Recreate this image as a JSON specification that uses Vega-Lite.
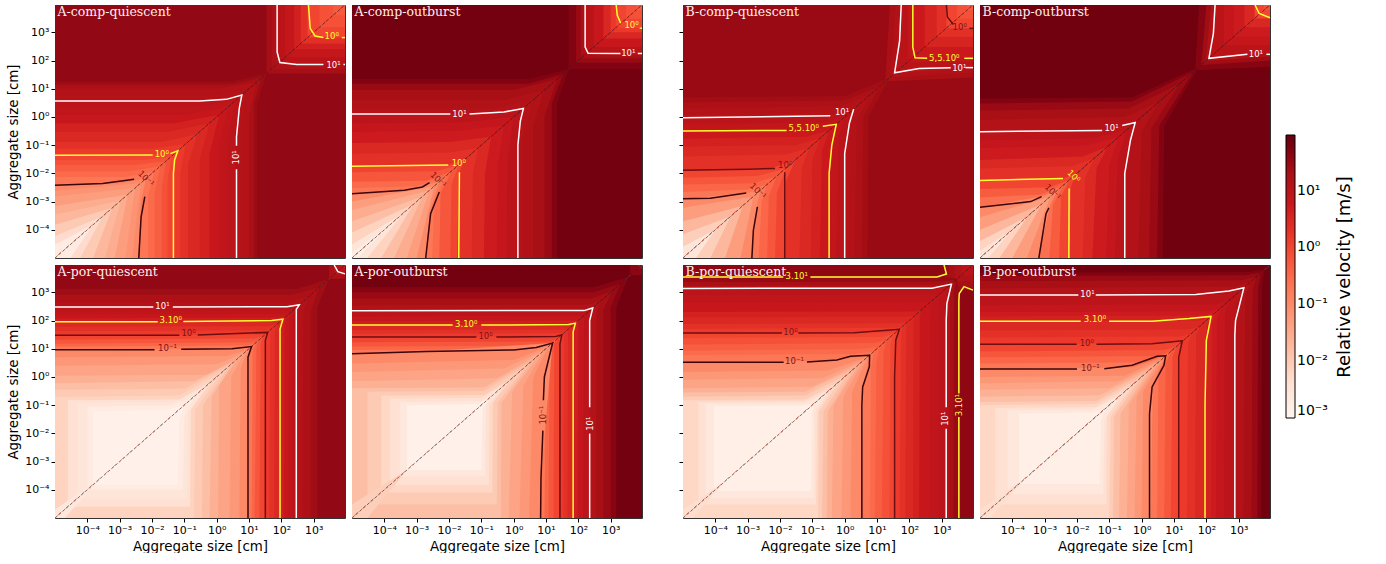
{"$schema":"https://vega.github.io/schema/vega-lite/v6.json","padding":{"left":6,"top":1,"right":0,"bottom":0},"background":"white",
"config":{"font":"DejaVu Sans","view":{"stroke":"#333","strokeWidth":1},"axis":{"labelFontSize":11,"titleFontSize":13.4,"titleFontWeight":"normal","grid":false,"domain":false,"tickColor":"#000","labelColor":"#000","titleColor":"#000","tickSize":4,"labelOverlap":false,"labelFlush":false,"labelPadding":2}},
"data":{"values":[
{"p":1,"t":"A-comp-quiescent"},{"p":2,"t":"A-comp-outburst"},{"p":3,"t":"B-comp-quiescent"},{"p":4,"t":"B-comp-outburst"},{"p":5,"t":"A-por-quiescent"},{"p":6,"t":"A-por-outburst"},{"p":7,"t":"B-por-quiescent"},{"p":8,"t":"B-por-outburst"},
{"p":1,"v":35,"x":1e-5,"Y":9300},{"p":1,"v":35,"x":9300,"Y":9300},
{"p":1,"v":22,"x":35,"Y":9300},{"p":1,"v":22,"x":9300,"Y":9300},{"p":1,"v":16,"x":50,"Y":9300},{"p":1,"v":16,"x":9300,"Y":9300},{"p":1,"v":10.1,"x":74,"Y":9300},{"p":1,"v":10.1,"x":9300,"Y":9300},{"p":1,"v":7.1,"x":130,"Y":9300},{"p":1,"v":7.1,"x":9300,"Y":9300},{"p":1,"v":4.1,"x":250,"Y":9300},{"p":1,"v":4.1,"x":9300,"Y":9300},{"p":1,"v":2.1,"x":400,"Y":9300},{"p":1,"v":2.1,"x":9300,"Y":9300},{"p":1,"v":1.01,"x":650,"Y":9300},{"p":1,"v":1.01,"x":9300,"Y":9300},{"p":1,"v":0.71,"x":1500,"Y":9300},{"p":1,"v":0.71,"x":9300,"Y":9300},{"p":1,"v":0.51,"x":4000,"Y":9300},{"p":1,"v":0.51,"x":9300,"Y":9300},
{"p":1,"v":28,"x":1e-5,"Y":18},{"p":1,"v":28,"x":3,"Y":18},{"p":1,"v":28,"x":35,"Y":35},
{"p":1,"v":18,"x":1e-5,"Y":14},{"p":1,"v":18,"x":3,"Y":14},{"p":1,"v":18,"x":25,"Y":25},
{"p":1,"v":14,"x":1e-5,"Y":10},{"p":1,"v":14,"x":1,"Y":10},{"p":1,"v":14,"x":17,"Y":17},
{"p":1,"v":12,"x":1e-5,"Y":6},{"p":1,"v":12,"x":0.5,"Y":6},{"p":1,"v":12,"x":9,"Y":9},
{"p":1,"v":10,"x":1e-5,"Y":3.7},{"p":1,"v":10,"x":0.3,"Y":3.7},{"p":1,"v":10,"x":6,"Y":6},
{"p":1,"v":8,"x":1e-5,"Y":2.2},{"p":1,"v":8,"x":0.2,"Y":2.2},{"p":1,"v":8,"x":4,"Y":4},
{"p":1,"v":6,"x":1e-5,"Y":1.2},{"p":1,"v":6,"x":0.1,"Y":1.2},{"p":1,"v":6,"x":2.3,"Y":2.3},
{"p":1,"v":4,"x":1e-5,"Y":0.6},{"p":1,"v":4,"x":0.05,"Y":0.6},{"p":1,"v":4,"x":1.2,"Y":1.2},
{"p":1,"v":3,"x":1e-5,"Y":0.3},{"p":1,"v":3,"x":0.03,"Y":0.3},{"p":1,"v":3,"x":0.6,"Y":0.6},
{"p":1,"v":2,"x":1e-5,"Y":0.13},{"p":1,"v":2,"x":0.02,"Y":0.13},{"p":1,"v":2,"x":0.25,"Y":0.25},
{"p":1,"v":1.4,"x":1e-5,"Y":0.075},{"p":1,"v":1.4,"x":0.01,"Y":0.075},{"p":1,"v":1.4,"x":0.11,"Y":0.11},
{"p":1,"v":1,"x":1e-5,"Y":0.044},{"p":1,"v":1,"x":0.007,"Y":0.044},{"p":1,"v":1,"x":0.063,"Y":0.063},
{"p":1,"v":0.7,"x":1e-5,"Y":0.03},{"p":1,"v":0.7,"x":0.005,"Y":0.03},{"p":1,"v":0.7,"x":0.04,"Y":0.04},
{"p":1,"v":0.45,"x":1e-5,"Y":0.02},{"p":1,"v":0.45,"x":0.003,"Y":0.02},{"p":1,"v":0.45,"x":0.027,"Y":0.027},
{"p":1,"v":0.3,"x":1e-5,"Y":0.012},{"p":1,"v":0.3,"x":0.002,"Y":0.012},{"p":1,"v":0.3,"x":0.018,"Y":0.018},
{"p":1,"v":0.2,"x":1e-5,"Y":0.0075},{"p":1,"v":0.2,"x":0.0015,"Y":0.0075},{"p":1,"v":0.2,"x":0.012,"Y":0.012},
{"p":1,"v":0.1,"x":1e-5,"Y":0.0038},{"p":1,"v":0.1,"x":0.001,"Y":0.0045},{"p":1,"v":0.1,"x":0.0066,"Y":0.0066},
{"p":1,"v":0.07,"x":1e-5,"Y":0.0024},{"p":1,"v":0.07,"x":0.0045,"Y":0.0045},
{"p":1,"v":0.05,"x":1e-5,"Y":0.0015},{"p":1,"v":0.05,"x":0.003,"Y":0.003},
{"p":1,"v":0.03,"x":1e-5,"Y":0.0007},{"p":1,"v":0.03,"x":0.0018,"Y":0.0018},
{"p":1,"v":0.02,"x":1e-5,"Y":0.00035},{"p":1,"v":0.02,"x":0.0011,"Y":0.0011},
{"p":1,"v":0.01,"x":1e-5,"Y":0.00015},{"p":1,"v":0.01,"x":0.0006,"Y":0.0006},
{"p":1,"v":0.005,"x":1e-5,"Y":0.00006},{"p":1,"v":0.005,"x":0.0003,"Y":0.0003},
{"p":1,"v":0.002,"x":1e-5,"Y":0.00003},{"p":1,"v":0.002,"x":0.00015,"Y":0.00015},
{"p":2,"v":70,"x":1e-5,"Y":9300},{"p":2,"v":70,"x":9300,"Y":9300},
{"p":2,"v":50.1,"x":50,"Y":9300},{"p":2,"v":50.1,"x":9300,"Y":9300},{"p":2,"v":30.1,"x":85,"Y":9300},{"p":2,"v":30.1,"x":9300,"Y":9300},{"p":2,"v":18,"x":120,"Y":9300},{"p":2,"v":18,"x":9300,"Y":9300},{"p":2,"v":10.1,"x":165,"Y":9300},{"p":2,"v":10.1,"x":9300,"Y":9300},{"p":2,"v":6,"x":300,"Y":9300},{"p":2,"v":6,"x":9300,"Y":9300},{"p":2,"v":3.1,"x":600,"Y":9300},{"p":2,"v":3.1,"x":9300,"Y":9300},{"p":2,"v":1.5,"x":1000,"Y":9300},{"p":2,"v":1.5,"x":9300,"Y":9300},{"p":2,"v":1.01,"x":1450,"Y":9300},{"p":2,"v":1.01,"x":9300,"Y":9300},{"p":2,"v":0.7,"x":3000,"Y":9300},{"p":2,"v":0.7,"x":9300,"Y":9300},{"p":2,"v":0.5,"x":6000,"Y":9300},{"p":2,"v":0.5,"x":9300,"Y":9300},
{"p":2,"v":50,"x":1e-5,"Y":22},{"p":2,"v":50,"x":3,"Y":22},{"p":2,"v":50,"x":50,"Y":50},
{"p":2,"v":30,"x":1e-5,"Y":15},{"p":2,"v":30,"x":3,"Y":15},{"p":2,"v":30,"x":35,"Y":35},
{"p":2,"v":20,"x":1e-5,"Y":9},{"p":2,"v":20,"x":1,"Y":9},{"p":2,"v":20,"x":22,"Y":22},
{"p":2,"v":15,"x":1e-5,"Y":4},{"p":2,"v":15,"x":0.5,"Y":4},{"p":2,"v":15,"x":9,"Y":9},
{"p":2,"v":12,"x":1e-5,"Y":2},{"p":2,"v":12,"x":0.2,"Y":2},{"p":2,"v":12,"x":4,"Y":4},
{"p":2,"v":10,"x":1e-5,"Y":1.26},{"p":2,"v":10,"x":0.05,"Y":1.3},{"p":2,"v":10,"x":2,"Y":2},
{"p":2,"v":7,"x":1e-5,"Y":0.6},{"p":2,"v":7,"x":0.03,"Y":0.65},{"p":2,"v":7,"x":1,"Y":1},
{"p":2,"v":5,"x":1e-5,"Y":0.3},{"p":2,"v":5,"x":0.02,"Y":0.33},{"p":2,"v":5,"x":0.5,"Y":0.5},
{"p":2,"v":3,"x":1e-5,"Y":0.12},{"p":2,"v":3,"x":0.01,"Y":0.13},{"p":2,"v":3,"x":0.2,"Y":0.2},
{"p":2,"v":2,"x":1e-5,"Y":0.05},{"p":2,"v":2,"x":0.01,"Y":0.055},{"p":2,"v":2,"x":0.08,"Y":0.08},
{"p":2,"v":1,"x":1e-5,"Y":0.018},{"p":2,"v":1,"x":0.0095,"Y":0.02},{"p":2,"v":1,"x":0.03,"Y":0.03},
{"p":2,"v":0.6,"x":1e-5,"Y":0.011},{"p":2,"v":0.6,"x":0.004,"Y":0.012},{"p":2,"v":0.6,"x":0.02,"Y":0.02},
{"p":2,"v":0.3,"x":1e-5,"Y":0.005},{"p":2,"v":0.3,"x":0.002,"Y":0.0055},{"p":2,"v":0.3,"x":0.012,"Y":0.012},
{"p":2,"v":0.2,"x":1e-5,"Y":0.003},{"p":2,"v":0.2,"x":0.001,"Y":0.0035},{"p":2,"v":0.2,"x":0.008,"Y":0.008},
{"p":2,"v":0.1,"x":1e-5,"Y":0.0019},{"p":2,"v":0.1,"x":0.0004,"Y":0.0025},{"p":2,"v":0.1,"x":0.005,"Y":0.005},
{"p":2,"v":0.05,"x":1e-5,"Y":0.001},{"p":2,"v":0.05,"x":0.0035,"Y":0.0035},
{"p":2,"v":0.03,"x":1e-5,"Y":0.0005},{"p":2,"v":0.03,"x":0.0025,"Y":0.0025},
{"p":2,"v":0.015,"x":1e-5,"Y":0.0002},{"p":2,"v":0.015,"x":0.0015,"Y":0.0015},
{"p":2,"v":0.007,"x":1e-5,"Y":0.00008},{"p":2,"v":0.007,"x":0.0008,"Y":0.0008},
{"p":2,"v":0.003,"x":1e-5,"Y":0.00003},{"p":2,"v":0.003,"x":0.0004,"Y":0.0004},
{"p":2,"v":0.0015,"x":1e-5,"Y":0.000015},{"p":2,"v":0.0015,"x":0.00015,"Y":0.00015},
{"p":3,"v":30,"x":1e-5,"Y":9300},{"p":3,"v":30,"x":9300,"Y":9300},
{"p":3,"v":18,"x":18,"Y":18},{"p":3,"v":18,"x":25,"Y":9300},{"p":3,"v":18,"x":9300,"Y":9300},{"p":3,"v":14.1,"x":25,"Y":25},{"p":3,"v":14.1,"x":38,"Y":9300},{"p":3,"v":14.1,"x":9300,"Y":9300},{"p":3,"v":10.1,"x":35,"Y":35},{"p":3,"v":10.1,"x":56,"Y":9300},{"p":3,"v":10.1,"x":9300,"Y":9300},{"p":3,"v":7.6,"x":90,"Y":9300},{"p":3,"v":7.6,"x":9300,"Y":9300},{"p":3,"v":5.6,"x":125,"Y":9300},{"p":3,"v":5.6,"x":9300,"Y":9300},{"p":3,"v":3.5,"x":300,"Y":9300},{"p":3,"v":3.5,"x":9300,"Y":9300},{"p":3,"v":2.1,"x":700,"Y":9300},{"p":3,"v":2.1,"x":9300,"Y":9300},{"p":3,"v":1.01,"x":1400,"Y":9300},{"p":3,"v":1.01,"x":9300,"Y":9300},{"p":3,"v":0.7,"x":3000,"Y":9300},{"p":3,"v":0.7,"x":9300,"Y":9300},{"p":3,"v":0.5,"x":6000,"Y":9300},{"p":3,"v":0.5,"x":9300,"Y":9300},
{"p":3,"v":24,"x":1e-5,"Y":5},{"p":3,"v":24,"x":1,"Y":5.5},{"p":3,"v":24,"x":25,"Y":25},
{"p":3,"v":17,"x":1e-5,"Y":3.3},{"p":3,"v":17,"x":1,"Y":3.8},{"p":3,"v":17,"x":12,"Y":12},
{"p":3,"v":14,"x":1e-5,"Y":2},{"p":3,"v":14,"x":0.7,"Y":2.4},{"p":3,"v":14,"x":6,"Y":6},
{"p":3,"v":12,"x":1e-5,"Y":1.3},{"p":3,"v":12,"x":0.4,"Y":1.5},{"p":3,"v":12,"x":3,"Y":3},
{"p":3,"v":10,"x":1e-5,"Y":0.93},{"p":3,"v":10,"x":0.36,"Y":1.1},{"p":3,"v":10,"x":1.9,"Y":1.9},
{"p":3,"v":7.5,"x":1e-5,"Y":0.55},{"p":3,"v":7.5,"x":0.2,"Y":0.65},{"p":3,"v":7.5,"x":1,"Y":1},
{"p":3,"v":5.5,"x":1e-5,"Y":0.32},{"p":3,"v":5.5,"x":0.1,"Y":0.36},{"p":3,"v":5.5,"x":0.55,"Y":0.55},
{"p":3,"v":4,"x":1e-5,"Y":0.17},{"p":3,"v":4,"x":0.06,"Y":0.2},{"p":3,"v":4,"x":0.33,"Y":0.33},
{"p":3,"v":3,"x":1e-5,"Y":0.09},{"p":3,"v":3,"x":0.03,"Y":0.1},{"p":3,"v":3,"x":0.18,"Y":0.18},
{"p":3,"v":2,"x":1e-5,"Y":0.04},{"p":3,"v":2,"x":0.015,"Y":0.047},{"p":3,"v":2,"x":0.08,"Y":0.08},
{"p":3,"v":1,"x":1e-5,"Y":0.013},{"p":3,"v":1,"x":0.005,"Y":0.015},{"p":3,"v":1,"x":0.03,"Y":0.03},
{"p":3,"v":0.6,"x":1e-5,"Y":0.007},{"p":3,"v":0.6,"x":0.002,"Y":0.008},{"p":3,"v":0.6,"x":0.015,"Y":0.015},
{"p":3,"v":0.35,"x":1e-5,"Y":0.004},{"p":3,"v":0.35,"x":0.0015,"Y":0.0045},{"p":3,"v":0.35,"x":0.008,"Y":0.008},
{"p":3,"v":0.2,"x":1e-5,"Y":0.0022},{"p":3,"v":0.2,"x":0.001,"Y":0.0027},{"p":3,"v":0.2,"x":0.004,"Y":0.004},
{"p":3,"v":0.1,"x":1e-5,"Y":0.00125},{"p":3,"v":0.1,"x":0.0009,"Y":0.002},{"p":3,"v":0.1,"x":0.0025,"Y":0.0025},
{"p":3,"v":0.05,"x":1e-5,"Y":0.0006},{"p":3,"v":0.05,"x":0.0015,"Y":0.0015},
{"p":3,"v":0.02,"x":1e-5,"Y":0.0002},{"p":3,"v":0.02,"x":0.0007,"Y":0.0007},
{"p":3,"v":0.008,"x":1e-5,"Y":0.00007},{"p":3,"v":0.008,"x":0.0003,"Y":0.0003},
{"p":3,"v":0.003,"x":1e-5,"Y":0.000025},{"p":3,"v":0.003,"x":0.0001,"Y":0.0001},
{"p":4,"v":75,"x":1e-5,"Y":9300},{"p":4,"v":75,"x":9300,"Y":9300},
{"p":4,"v":45,"x":45,"Y":45},{"p":4,"v":45,"x":60,"Y":9300},{"p":4,"v":45,"x":9300,"Y":9300},{"p":4,"v":25,"x":70,"Y":70},{"p":4,"v":25,"x":100,"Y":9300},{"p":4,"v":25,"x":9300,"Y":9300},{"p":4,"v":15,"x":95,"Y":95},{"p":4,"v":15,"x":140,"Y":9300},{"p":4,"v":15,"x":9300,"Y":9300},{"p":4,"v":10.1,"x":120,"Y":120},{"p":4,"v":10.1,"x":186,"Y":9300},{"p":4,"v":10.1,"x":9300,"Y":9300},{"p":4,"v":7.1,"x":350,"Y":9300},{"p":4,"v":7.1,"x":9300,"Y":9300},{"p":4,"v":5.1,"x":700,"Y":9300},{"p":4,"v":5.1,"x":9300,"Y":9300},{"p":4,"v":3.1,"x":1500,"Y":9300},{"p":4,"v":3.1,"x":9300,"Y":9300},{"p":4,"v":1.01,"x":3100,"Y":9300},{"p":4,"v":1.01,"x":9300,"Y":9300},{"p":4,"v":0.7,"x":6000,"Y":9300},{"p":4,"v":0.7,"x":9300,"Y":9300},
{"p":4,"v":50,"x":1e-5,"Y":4.5},{"p":4,"v":50,"x":0.5,"Y":5},{"p":4,"v":50,"x":60,"Y":60},
{"p":4,"v":30,"x":1e-5,"Y":3},{"p":4,"v":30,"x":0.5,"Y":3.5},{"p":4,"v":30,"x":40,"Y":40},
{"p":4,"v":20,"x":1e-5,"Y":1.7},{"p":4,"v":20,"x":0.4,"Y":2},{"p":4,"v":20,"x":15,"Y":15},
{"p":4,"v":14,"x":1e-5,"Y":0.8},{"p":4,"v":14,"x":0.3,"Y":1},{"p":4,"v":14,"x":3.5,"Y":3.5},
{"p":4,"v":10,"x":1e-5,"Y":0.3},{"p":4,"v":10,"x":0.06,"Y":0.35},{"p":4,"v":10,"x":0.63,"Y":0.63},
{"p":4,"v":7,"x":1e-5,"Y":0.15},{"p":4,"v":7,"x":0.03,"Y":0.18},{"p":4,"v":7,"x":0.35,"Y":0.35},
{"p":4,"v":5,"x":1e-5,"Y":0.08},{"p":4,"v":5,"x":0.02,"Y":0.1},{"p":4,"v":5,"x":0.2,"Y":0.2},
{"p":4,"v":3,"x":1e-5,"Y":0.03},{"p":4,"v":3,"x":0.015,"Y":0.04},{"p":4,"v":3,"x":0.09,"Y":0.09},
{"p":4,"v":2,"x":1e-5,"Y":0.015},{"p":4,"v":2,"x":0.007,"Y":0.018},{"p":4,"v":2,"x":0.035,"Y":0.035},
{"p":4,"v":1,"x":1e-5,"Y":0.0056},{"p":4,"v":1,"x":0.0037,"Y":0.0066},{"p":4,"v":1,"x":0.01,"Y":0.01},
{"p":4,"v":0.5,"x":1e-5,"Y":0.0028},{"p":4,"v":0.5,"x":0.0015,"Y":0.0032},{"p":4,"v":0.5,"x":0.006,"Y":0.006},
{"p":4,"v":0.25,"x":1e-5,"Y":0.0014},{"p":4,"v":0.25,"x":0.0008,"Y":0.0018},{"p":4,"v":0.25,"x":0.004,"Y":0.004},
{"p":4,"v":0.1,"x":1e-5,"Y":0.00063},{"p":4,"v":0.1,"x":0.0008,"Y":0.0015},{"p":4,"v":0.1,"x":0.0025,"Y":0.0025},
{"p":4,"v":0.05,"x":1e-5,"Y":0.00028},{"p":4,"v":0.05,"x":0.0015,"Y":0.0015},
{"p":4,"v":0.02,"x":1e-5,"Y":0.0001},{"p":4,"v":0.02,"x":0.0008,"Y":0.0008},
{"p":4,"v":0.007,"x":1e-5,"Y":0.00004},{"p":4,"v":0.007,"x":0.0003,"Y":0.0003},
{"p":4,"v":0.003,"x":1e-5,"Y":0.000018},{"p":4,"v":0.003,"x":0.0001,"Y":0.0001},
{"p":5,"v":35,"x":1e-5,"Y":9300},{"p":5,"v":35,"x":9300,"Y":9300},
{"p":5,"v":18,"x":3000,"Y":9300},{"p":5,"v":18,"x":9300,"Y":9300},{"p":5,"v":10.1,"x":4300,"Y":9300},{"p":5,"v":10.1,"x":9300,"Y":9300},{"p":5,"v":7,"x":7000,"Y":9300},{"p":5,"v":7,"x":9300,"Y":9300},
{"p":5,"v":26,"x":1e-5,"Y":1300},{"p":5,"v":26,"x":300,"Y":1300},{"p":5,"v":26,"x":3000,"Y":3000},
{"p":5,"v":17,"x":1e-5,"Y":800},{"p":5,"v":17,"x":200,"Y":800},{"p":5,"v":17,"x":1500,"Y":1500},
{"p":5,"v":13,"x":1e-5,"Y":450},{"p":5,"v":13,"x":200,"Y":480},{"p":5,"v":13,"x":700,"Y":700},
{"p":5,"v":10,"x":1e-5,"Y":300},{"p":5,"v":10,"x":200,"Y":310},{"p":5,"v":10,"x":360,"Y":360},
{"p":5,"v":8,"x":1e-5,"Y":220},{"p":5,"v":8,"x":130,"Y":230},{"p":5,"v":8,"x":280,"Y":280},
{"p":5,"v":6,"x":1e-5,"Y":160},{"p":5,"v":6,"x":100,"Y":170},{"p":5,"v":6,"x":210,"Y":210},
{"p":5,"v":4.5,"x":1e-5,"Y":120},{"p":5,"v":4.5,"x":80,"Y":125},{"p":5,"v":4.5,"x":150,"Y":150},
{"p":5,"v":3,"x":1e-5,"Y":91},{"p":5,"v":3,"x":70,"Y":95},{"p":5,"v":3,"x":112,"Y":112},
{"p":5,"v":2,"x":1e-5,"Y":60},{"p":5,"v":2,"x":40,"Y":63},{"p":5,"v":2,"x":75,"Y":75},
{"p":5,"v":1.4,"x":1e-5,"Y":42},{"p":5,"v":1.4,"x":30,"Y":45},{"p":5,"v":1.4,"x":52,"Y":52},
{"p":5,"v":1,"x":1e-5,"Y":30},{"p":5,"v":1,"x":25,"Y":32},{"p":5,"v":1,"x":38,"Y":38},
{"p":5,"v":0.6,"x":1e-5,"Y":21},{"p":5,"v":0.6,"x":15,"Y":23},{"p":5,"v":0.6,"x":27,"Y":27},
{"p":5,"v":0.35,"x":1e-5,"Y":15},{"p":5,"v":0.35,"x":12,"Y":17},{"p":5,"v":0.35,"x":20,"Y":20},
{"p":5,"v":0.2,"x":1e-5,"Y":12},{"p":5,"v":0.2,"x":9,"Y":13},{"p":5,"v":0.2,"x":16,"Y":16},
{"p":5,"v":0.1,"x":1e-5,"Y":9.3},{"p":5,"v":0.1,"x":5,"Y":10},{"p":5,"v":0.1,"x":12,"Y":12},
{"p":5,"v":0.06,"x":1e-5,"Y":5},{"p":5,"v":0.06,"x":2,"Y":5.5},{"p":5,"v":0.06,"x":9,"Y":9},
{"p":5,"v":0.04,"x":1e-5,"Y":2.5},{"p":5,"v":0.04,"x":1,"Y":2.8},{"p":5,"v":0.04,"x":7,"Y":7},
{"p":5,"v":0.025,"x":1e-5,"Y":1.1},{"p":5,"v":0.025,"x":0.5,"Y":1.2},{"p":5,"v":0.025,"x":5,"Y":5},
{"p":5,"v":0.015,"x":1e-5,"Y":0.6},{"p":5,"v":0.015,"x":0.2,"Y":0.7},{"p":5,"v":0.015,"x":3.5,"Y":3.5},
{"p":5,"v":0.01,"x":1e-5,"Y":0.35},{"p":5,"v":0.01,"x":0.1,"Y":0.38},{"p":5,"v":0.01,"x":2.5,"Y":2.5},
{"p":5,"v":0.007,"x":1e-5,"Y":0.2},{"p":5,"v":0.007,"x":0.07,"Y":0.22},{"p":5,"v":0.007,"x":1.5,"Y":1.5},
{"p":5,"v":0.004,"x":0.000025,"Y":0.15},{"p":5,"v":0.004,"x":0.07,"Y":0.16},{"p":5,"v":0.004,"x":0.7,"Y":0.7},
{"p":5,"v":0.003,"x":0.00005,"Y":0.12},{"p":5,"v":0.003,"x":0.05,"Y":0.13},{"p":5,"v":0.003,"x":0.4,"Y":0.4},
{"p":5,"v":0.002,"x":0.0001,"Y":0.09},{"p":5,"v":0.002,"x":0.04,"Y":0.1},{"p":5,"v":0.002,"x":0.2,"Y":0.2},
{"p":5,"v":0.0013,"x":0.00015,"Y":0.06},{"p":5,"v":0.0013,"x":0.03,"Y":0.07},{"p":5,"v":0.0013,"x":0.1,"Y":0.1},
{"p":5,"v":0.0025,"x":1e-5,"Y":0.00002},{"p":5,"v":0.0025,"x":0.0003,"Y":0.0003},
{"p":6,"v":70,"x":1e-5,"Y":9300},{"p":6,"v":70,"x":9300,"Y":9300},
{"p":6,"v":40,"x":4000,"Y":9300},{"p":6,"v":40,"x":9300,"Y":9300},{"p":6,"v":22,"x":7000,"Y":9300},{"p":6,"v":22,"x":9300,"Y":9300},
{"p":6,"v":45,"x":1e-5,"Y":1500},{"p":6,"v":45,"x":300,"Y":1500},{"p":6,"v":45,"x":3500,"Y":3500},
{"p":6,"v":30,"x":1e-5,"Y":1000},{"p":6,"v":30,"x":300,"Y":1000},{"p":6,"v":30,"x":2000,"Y":2000},
{"p":6,"v":20,"x":1e-5,"Y":600},{"p":6,"v":20,"x":250,"Y":600},{"p":6,"v":20,"x":1100,"Y":1100},
{"p":6,"v":14,"x":1e-5,"Y":350},{"p":6,"v":14,"x":200,"Y":370},{"p":6,"v":14,"x":500,"Y":500},
{"p":6,"v":10,"x":1e-5,"Y":224},{"p":6,"v":10,"x":200,"Y":230},{"p":6,"v":10,"x":280,"Y":280},
{"p":6,"v":7,"x":1e-5,"Y":140},{"p":6,"v":7,"x":120,"Y":150},{"p":6,"v":7,"x":180,"Y":180},
{"p":6,"v":4.5,"x":1e-5,"Y":95},{"p":6,"v":4.5,"x":80,"Y":100},{"p":6,"v":4.5,"x":115,"Y":115},
{"p":6,"v":3,"x":1e-5,"Y":69},{"p":6,"v":3,"x":60,"Y":72},{"p":6,"v":3,"x":81,"Y":81},
{"p":6,"v":2,"x":1e-5,"Y":46},{"p":6,"v":2,"x":40,"Y":48},{"p":6,"v":2,"x":55,"Y":55},
{"p":6,"v":1.4,"x":1e-5,"Y":34},{"p":6,"v":1.4,"x":30,"Y":36},{"p":6,"v":1.4,"x":40,"Y":40},
{"p":6,"v":1,"x":1e-5,"Y":26},{"p":6,"v":1,"x":22,"Y":27},{"p":6,"v":1,"x":31,"Y":31},
{"p":6,"v":0.6,"x":1e-5,"Y":17},{"p":6,"v":0.6,"x":15,"Y":18},{"p":6,"v":0.6,"x":24,"Y":24},
{"p":6,"v":0.35,"x":1e-5,"Y":12},{"p":6,"v":0.35,"x":8,"Y":13},{"p":6,"v":0.35,"x":20,"Y":20},
{"p":6,"v":0.2,"x":1e-5,"Y":9},{"p":6,"v":0.2,"x":4,"Y":10},{"p":6,"v":0.2,"x":18,"Y":18},
{"p":6,"v":0.1,"x":1e-5,"Y":6.6},{"p":6,"v":0.1,"x":0.002,"Y":8},{"p":6,"v":0.1,"x":16,"Y":16},
{"p":6,"v":0.06,"x":1e-5,"Y":3},{"p":6,"v":0.06,"x":1,"Y":4},{"p":6,"v":0.06,"x":12,"Y":12},
{"p":6,"v":0.04,"x":1e-5,"Y":1.5},{"p":6,"v":0.04,"x":0.5,"Y":2},{"p":6,"v":0.04,"x":9,"Y":9},
{"p":6,"v":0.025,"x":1e-5,"Y":0.7},{"p":6,"v":0.025,"x":0.3,"Y":0.9},{"p":6,"v":0.025,"x":7,"Y":7},
{"p":6,"v":0.015,"x":1e-5,"Y":0.4},{"p":6,"v":0.015,"x":0.12,"Y":0.42},{"p":6,"v":0.015,"x":4,"Y":4},
{"p":6,"v":0.01,"x":0.00003,"Y":0.3},{"p":6,"v":0.01,"x":0.12,"Y":0.32},{"p":6,"v":0.01,"x":2.5,"Y":2.5},
{"p":6,"v":0.006,"x":0.00008,"Y":0.22},{"p":6,"v":0.006,"x":0.12,"Y":0.23},{"p":6,"v":0.006,"x":1,"Y":1},
{"p":6,"v":0.004,"x":0.00015,"Y":0.17},{"p":6,"v":0.004,"x":0.1,"Y":0.18},{"p":6,"v":0.004,"x":0.6,"Y":0.6},
{"p":6,"v":0.0025,"x":0.0003,"Y":0.13},{"p":6,"v":0.0025,"x":0.1,"Y":0.14},{"p":6,"v":0.0025,"x":0.35,"Y":0.35},
{"p":6,"v":0.0014,"x":0.0005,"Y":0.1},{"p":6,"v":0.0014,"x":0.08,"Y":0.11},{"p":6,"v":0.0014,"x":0.2,"Y":0.2},
{"p":6,"v":0.008,"x":1e-5,"Y":0.00003},{"p":6,"v":0.008,"x":0.0005,"Y":0.0005},
{"p":7,"v":38,"x":1e-5,"Y":9300},{"p":7,"v":38,"x":9300,"Y":9300},
{"p":7,"v":25,"x":1200,"Y":9300},{"p":7,"v":25,"x":9300,"Y":9300},{"p":7,"v":20.1,"x":1700,"Y":9300},{"p":7,"v":20.1,"x":9300,"Y":9300},{"p":7,"v":15,"x":2500,"Y":9300},{"p":7,"v":15,"x":9300,"Y":9300},{"p":7,"v":10.1,"x":4000,"Y":9300},{"p":7,"v":10.1,"x":9300,"Y":9300},
{"p":7,"v":30,"x":1e-5,"Y":3500},{"p":7,"v":30,"x":1000,"Y":3500},{"p":7,"v":30,"x":3000,"Y":3000},
{"p":7,"v":20,"x":1e-5,"Y":2300},{"p":7,"v":20,"x":1000,"Y":2400},{"p":7,"v":20,"x":2800,"Y":2800},
{"p":7,"v":14,"x":1e-5,"Y":1700},{"p":7,"v":14,"x":1000,"Y":1800},{"p":7,"v":14,"x":2400,"Y":2400},
{"p":7,"v":10,"x":1e-5,"Y":1380},{"p":7,"v":10,"x":1000,"Y":1450},{"p":7,"v":10,"x":2000,"Y":2000},
{"p":7,"v":8,"x":1e-5,"Y":800},{"p":7,"v":8,"x":500,"Y":830},{"p":7,"v":8,"x":1000,"Y":1000},
{"p":7,"v":6,"x":1e-5,"Y":420},{"p":7,"v":6,"x":300,"Y":440},{"p":7,"v":6,"x":500,"Y":500},
{"p":7,"v":4,"x":1e-5,"Y":200},{"p":7,"v":4,"x":150,"Y":210},{"p":7,"v":4,"x":240,"Y":240},
{"p":7,"v":3,"x":1e-5,"Y":130},{"p":7,"v":3,"x":100,"Y":135},{"p":7,"v":3,"x":160,"Y":160},
{"p":7,"v":2,"x":1e-5,"Y":75},{"p":7,"v":2,"x":60,"Y":80},{"p":7,"v":2,"x":95,"Y":95},
{"p":7,"v":1.4,"x":1e-5,"Y":50},{"p":7,"v":1.4,"x":40,"Y":55},{"p":7,"v":1.4,"x":65,"Y":65},
{"p":7,"v":1,"x":1e-5,"Y":36},{"p":7,"v":1,"x":25,"Y":38},{"p":7,"v":1,"x":49,"Y":49},
{"p":7,"v":0.7,"x":1e-5,"Y":24},{"p":7,"v":0.7,"x":15,"Y":26},{"p":7,"v":0.7,"x":33,"Y":33},
{"p":7,"v":0.45,"x":1e-5,"Y":14},{"p":7,"v":0.45,"x":8,"Y":16},{"p":7,"v":0.45,"x":20,"Y":20},
{"p":7,"v":0.3,"x":1e-5,"Y":8.5},{"p":7,"v":0.3,"x":3,"Y":9.5},{"p":7,"v":0.3,"x":12,"Y":12},
{"p":7,"v":0.2,"x":1e-5,"Y":6},{"p":7,"v":0.2,"x":2,"Y":6.5},{"p":7,"v":0.2,"x":8,"Y":8},
{"p":7,"v":0.1,"x":1e-5,"Y":3.3},{"p":7,"v":0.1,"x":0.5,"Y":3.8},{"p":7,"v":0.1,"x":5.9,"Y":5.9},
{"p":7,"v":0.06,"x":1e-5,"Y":1.5},{"p":7,"v":0.06,"x":0.3,"Y":1.7},{"p":7,"v":0.06,"x":5,"Y":5},
{"p":7,"v":0.04,"x":1e-5,"Y":0.8},{"p":7,"v":0.04,"x":0.2,"Y":0.9},{"p":7,"v":0.04,"x":4,"Y":4},
{"p":7,"v":0.025,"x":1e-5,"Y":0.4},{"p":7,"v":0.025,"x":0.1,"Y":0.45},{"p":7,"v":0.025,"x":3,"Y":3},
{"p":7,"v":0.015,"x":1e-5,"Y":0.28},{"p":7,"v":0.015,"x":0.06,"Y":0.3},{"p":7,"v":0.015,"x":2,"Y":2},
{"p":7,"v":0.009,"x":1e-5,"Y":0.2},{"p":7,"v":0.009,"x":0.06,"Y":0.22},{"p":7,"v":0.009,"x":1.2,"Y":1.2},
{"p":7,"v":0.006,"x":1e-5,"Y":0.15},{"p":7,"v":0.006,"x":0.06,"Y":0.16},{"p":7,"v":0.006,"x":0.7,"Y":0.7},
{"p":7,"v":0.004,"x":0.00003,"Y":0.13},{"p":7,"v":0.004,"x":0.06,"Y":0.14},{"p":7,"v":0.004,"x":0.4,"Y":0.4},
{"p":7,"v":0.0025,"x":0.00005,"Y":0.11},{"p":7,"v":0.0025,"x":0.06,"Y":0.115},{"p":7,"v":0.0025,"x":0.25,"Y":0.25},
{"p":7,"v":0.0015,"x":0.00009,"Y":0.09},{"p":7,"v":0.0015,"x":0.05,"Y":0.095},{"p":7,"v":0.0015,"x":0.12,"Y":0.12},
{"p":7,"v":0.0045,"x":1e-5,"Y":0.00002},{"p":7,"v":0.0045,"x":0.0002,"Y":0.0002},
{"p":8,"v":75,"x":1e-5,"Y":9300},{"p":8,"v":75,"x":9300,"Y":9300},
{"p":8,"v":50,"x":1e-5,"Y":5000},{"p":8,"v":50,"x":2000,"Y":5300},{"p":8,"v":50,"x":6500,"Y":6500},
{"p":8,"v":30,"x":1e-5,"Y":3800},{"p":8,"v":30,"x":1500,"Y":4000},{"p":8,"v":30,"x":5000,"Y":5000},
{"p":8,"v":20,"x":1e-5,"Y":2500},{"p":8,"v":20,"x":1200,"Y":2700},{"p":8,"v":20,"x":3500,"Y":3500},
{"p":8,"v":14,"x":1e-5,"Y":1400},{"p":8,"v":14,"x":800,"Y":1600},{"p":8,"v":14,"x":2500,"Y":2500},
{"p":8,"v":10,"x":1e-5,"Y":800},{"p":8,"v":10,"x":400,"Y":850},{"p":8,"v":10,"x":1500,"Y":1500},
{"p":8,"v":7,"x":1e-5,"Y":350},{"p":8,"v":7,"x":200,"Y":380},{"p":8,"v":7,"x":550,"Y":550},
{"p":8,"v":5,"x":1e-5,"Y":200},{"p":8,"v":5,"x":120,"Y":215},{"p":8,"v":5,"x":300,"Y":300},
{"p":8,"v":4,"x":1e-5,"Y":140},{"p":8,"v":4,"x":90,"Y":150},{"p":8,"v":4,"x":210,"Y":210},
{"p":8,"v":3,"x":1e-5,"Y":95},{"p":8,"v":3,"x":60,"Y":100},{"p":8,"v":3,"x":140,"Y":140},
{"p":8,"v":2,"x":1e-5,"Y":45},{"p":8,"v":2,"x":30,"Y":48},{"p":8,"v":2,"x":65,"Y":65},
{"p":8,"v":1.4,"x":1e-5,"Y":25},{"p":8,"v":1.4,"x":15,"Y":27},{"p":8,"v":1.4,"x":35,"Y":35},
{"p":8,"v":1,"x":1e-5,"Y":14.5},{"p":8,"v":1,"x":9,"Y":15.5},{"p":8,"v":1,"x":19,"Y":19},
{"p":8,"v":0.6,"x":1e-5,"Y":8},{"p":8,"v":0.6,"x":5,"Y":9},{"p":8,"v":0.6,"x":12,"Y":12},
{"p":8,"v":0.35,"x":1e-5,"Y":5},{"p":8,"v":0.35,"x":3,"Y":5.5},{"p":8,"v":0.35,"x":8.5,"Y":8.5},
{"p":8,"v":0.2,"x":1e-5,"Y":3},{"p":8,"v":0.2,"x":1.5,"Y":3.3},{"p":8,"v":0.2,"x":7,"Y":7},
{"p":8,"v":0.1,"x":1e-5,"Y":1.9},{"p":8,"v":0.1,"x":0.6,"Y":2.2},{"p":8,"v":0.1,"x":5.5,"Y":5.5},
{"p":8,"v":0.06,"x":1e-5,"Y":1},{"p":8,"v":0.06,"x":0.3,"Y":1.1},{"p":8,"v":0.06,"x":4.5,"Y":4.5},
{"p":8,"v":0.04,"x":1e-5,"Y":0.6},{"p":8,"v":0.04,"x":0.2,"Y":0.7},{"p":8,"v":0.04,"x":3.5,"Y":3.5},
{"p":8,"v":0.025,"x":1e-5,"Y":0.35},{"p":8,"v":0.025,"x":0.1,"Y":0.4},{"p":8,"v":0.025,"x":2.5,"Y":2.5},
{"p":8,"v":0.015,"x":1e-5,"Y":0.2},{"p":8,"v":0.015,"x":0.05,"Y":0.22},{"p":8,"v":0.015,"x":1.6,"Y":1.6},
{"p":8,"v":0.009,"x":1e-5,"Y":0.13},{"p":8,"v":0.009,"x":0.04,"Y":0.14},{"p":8,"v":0.009,"x":1,"Y":1},
{"p":8,"v":0.006,"x":1e-5,"Y":0.1},{"p":8,"v":0.006,"x":0.04,"Y":0.11},{"p":8,"v":0.006,"x":0.6,"Y":0.6},
{"p":8,"v":0.004,"x":0.00003,"Y":0.08},{"p":8,"v":0.004,"x":0.04,"Y":0.085},{"p":8,"v":0.004,"x":0.35,"Y":0.35},
{"p":8,"v":0.0025,"x":0.00007,"Y":0.065},{"p":8,"v":0.0025,"x":0.03,"Y":0.07},{"p":8,"v":0.0025,"x":0.2,"Y":0.2},
{"p":8,"v":0.0015,"x":0.00016,"Y":0.05},{"p":8,"v":0.0015,"x":0.03,"Y":0.055},{"p":8,"v":0.0015,"x":0.08,"Y":0.08},
{"p":8,"v":0.0045,"x":1e-5,"Y":0.00002},{"p":8,"v":0.0045,"x":0.0003,"Y":0.0003},

{"p":1,"g":1,"c":"w","x":1e-5,"y":3.7},{"p":1,"g":1,"c":"w","x":0.3,"y":3.7},{"p":1,"g":1,"c":"w","x":2,"y":4.2},{"p":1,"g":1,"c":"w","x":6,"y":6},{"p":1,"g":1,"c":"w","x":5,"y":2},{"p":1,"g":1,"c":"w","x":4.1,"y":0.2},{"p":1,"g":1,"c":"w","x":4.1,"y":0.095},
{"p":1,"g":2,"c":"w","x":4.1,"y":0.014},{"p":1,"g":2,"c":"w","x":4.1,"y":1e-5},
{"p":1,"g":3,"c":"y","x":1e-5,"y":0.044},{"p":1,"g":3,"c":"y","x":0.0105,"y":0.045},
{"p":1,"g":4,"c":"y","x":0.037,"y":0.05},{"p":1,"g":4,"c":"y","x":0.063,"y":0.063},{"p":1,"g":4,"c":"y","x":0.05,"y":0.03},{"p":1,"g":4,"c":"y","x":0.046,"y":0.01},{"p":1,"g":4,"c":"y","x":0.046,"y":1e-5},
{"p":1,"g":5,"c":"a","x":1e-5,"y":0.0038},{"p":1,"g":5,"c":"a","x":0.0003,"y":0.0044},{"p":1,"g":5,"c":"a","x":0.0028,"y":0.0062},
{"p":1,"g":6,"c":"a","x":0.006,"y":0.0015},{"p":1,"g":6,"c":"a","x":0.0046,"y":0.00029},{"p":1,"g":6,"c":"a","x":0.0039,"y":1e-5},
{"p":1,"g":7,"c":"w","x":74,"y":9300},{"p":1,"g":7,"c":"w","x":74,"y":200},{"p":1,"g":7,"c":"w","x":90,"y":85},{"p":1,"g":7,"c":"w","x":300,"y":72},{"p":1,"g":7,"c":"w","x":2000,"y":72},
{"p":1,"g":8,"c":"w","x":8300,"y":72},{"p":1,"g":8,"c":"w","x":9300,"y":72},
{"p":1,"g":9,"c":"y","x":690,"y":9300},{"p":1,"g":9,"c":"y","x":780,"y":1380},{"p":1,"g":9,"c":"y","x":1100,"y":740},{"p":1,"g":9,"c":"y","x":2000,"y":650},
{"p":1,"g":10,"c":"y","x":7400,"y":650},{"p":1,"g":10,"c":"y","x":9300,"y":650},
{"p":2,"g":1,"c":"w","x":1e-5,"y":1.26},{"p":2,"g":1,"c":"w","x":0.011,"y":1.26},
{"p":2,"g":2,"c":"w","x":0.043,"y":1.27},{"p":2,"g":2,"c":"w","x":0.5,"y":1.5},{"p":2,"g":2,"c":"w","x":2,"y":2},{"p":2,"g":2,"c":"w","x":1.6,"y":0.7},{"p":2,"g":2,"c":"w","x":1.35,"y":0.1},{"p":2,"g":2,"c":"w","x":1.35,"y":1e-5},
{"p":2,"g":3,"c":"y","x":1e-5,"y":0.018},{"p":2,"g":3,"c":"y","x":0.0095,"y":0.02},
{"p":2,"g":4,"c":"y","x":0.021,"y":0.011},{"p":2,"g":4,"c":"y","x":0.02,"y":1e-5},
{"p":2,"g":5,"c":"a","x":1e-5,"y":0.0019},{"p":2,"g":5,"c":"a","x":0.00042,"y":0.0025},{"p":2,"g":5,"c":"a","x":0.0015,"y":0.0033},{"p":2,"g":5,"c":"a","x":0.0025,"y":0.0047},
{"p":2,"g":6,"c":"a","x":0.005,"y":0.0022},{"p":2,"g":6,"c":"a","x":0.0027,"y":0.00037},{"p":2,"g":6,"c":"a","x":0.0019,"y":1e-5},
{"p":2,"g":7,"c":"w","x":162,"y":9300},{"p":2,"g":7,"c":"w","x":162,"y":300},{"p":2,"g":7,"c":"w","x":200,"y":180},{"p":2,"g":7,"c":"w","x":2000,"y":178},
{"p":2,"g":8,"c":"w","x":6900,"y":178},{"p":2,"g":8,"c":"w","x":9300,"y":178},
{"p":2,"g":9,"c":"y","x":1480,"y":9300},{"p":2,"g":9,"c":"y","x":1600,"y":4000},{"p":2,"g":9,"c":"y","x":2050,"y":2100},
{"p":2,"g":10,"c":"y","x":7900,"y":1400},{"p":2,"g":10,"c":"y","x":9300,"y":1400},
{"p":3,"g":1,"c":"w","x":1e-5,"y":0.93},{"p":3,"g":1,"c":"w","x":0.36,"y":1.1},
{"p":3,"g":2,"c":"w","x":1.9,"y":1.9},{"p":3,"g":2,"c":"w","x":1.4,"y":0.6},{"p":3,"g":2,"c":"w","x":1,"y":0.05},{"p":3,"g":2,"c":"w","x":1,"y":1e-5},
{"p":3,"g":3,"c":"y","x":1e-5,"y":0.32},{"p":3,"g":3,"c":"y","x":0.016,"y":0.33},
{"p":3,"g":4,"c":"y","x":0.21,"y":0.47},{"p":3,"g":4,"c":"y","x":0.55,"y":0.55},{"p":3,"g":4,"c":"y","x":0.4,"y":0.1},{"p":3,"g":4,"c":"y","x":0.33,"y":0.01},{"p":3,"g":4,"c":"y","x":0.33,"y":1e-5},
{"p":3,"g":5,"c":"b","x":1e-5,"y":0.013},{"p":3,"g":5,"c":"b","x":0.001,"y":0.014},{"p":3,"g":5,"c":"b","x":0.007,"y":0.015},
{"p":3,"g":6,"c":"b","x":0.014,"y":0.011},{"p":3,"g":6,"c":"b","x":0.014,"y":1e-5},
{"p":3,"g":7,"c":"a","x":1e-5,"y":0.00125},{"p":3,"g":7,"c":"a","x":0.00007,"y":0.0013},{"p":3,"g":7,"c":"a","x":0.0009,"y":0.002},
{"p":3,"g":8,"c":"a","x":0.002,"y":0.00065},{"p":3,"g":8,"c":"a","x":0.0015,"y":0.000095},{"p":3,"g":8,"c":"a","x":0.00135,"y":1e-5},
{"p":3,"g":9,"c":"w","x":56,"y":9300},{"p":3,"g":9,"c":"w","x":50,"y":500},{"p":3,"g":9,"c":"w","x":35,"y":37},{"p":3,"g":9,"c":"w","x":200,"y":52},{"p":3,"g":9,"c":"w","x":1900,"y":56},
{"p":3,"g":10,"c":"w","x":5500,"y":56},{"p":3,"g":10,"c":"w","x":9300,"y":56},
{"p":3,"g":11,"c":"y","x":128,"y":9300},{"p":3,"g":11,"c":"y","x":128,"y":300},{"p":3,"g":11,"c":"y","x":150,"y":125},{"p":3,"g":11,"c":"y","x":355,"y":120},
{"p":3,"g":12,"c":"y","x":5000,"y":120},{"p":3,"g":12,"c":"y","x":9300,"y":120},
{"p":3,"g":13,"c":"b","x":1400,"y":9300},{"p":3,"g":13,"c":"b","x":1500,"y":3500},{"p":3,"g":13,"c":"b","x":2300,"y":1900},
{"p":3,"g":14,"c":"b","x":7200,"y":1380},{"p":3,"g":14,"c":"b","x":9300,"y":1380},
{"p":4,"g":1,"c":"w","x":1e-5,"y":0.3},{"p":4,"g":1,"c":"w","x":0.06,"y":0.33},
{"p":4,"g":2,"c":"w","x":0.25,"y":0.5},{"p":4,"g":2,"c":"w","x":0.63,"y":0.63},{"p":4,"g":2,"c":"w","x":0.45,"y":0.15},{"p":4,"g":2,"c":"w","x":0.3,"y":0.01},{"p":4,"g":2,"c":"w","x":0.3,"y":1e-5},
{"p":4,"g":3,"c":"y","x":1e-5,"y":0.0056},{"p":4,"g":3,"c":"y","x":0.0037,"y":0.0066},
{"p":4,"g":4,"c":"y","x":0.0057,"y":0.0029},{"p":4,"g":4,"c":"y","x":0.0056,"y":1e-5},
{"p":4,"g":5,"c":"a","x":1e-5,"y":0.00063},{"p":4,"g":5,"c":"a","x":0.00037,"y":0.001},{"p":4,"g":5,"c":"a","x":0.0008,"y":0.0015},
{"p":4,"g":6,"c":"a","x":0.00135,"y":0.0006},{"p":4,"g":6,"c":"a","x":0.0011,"y":0.00037},{"p":4,"g":6,"c":"a","x":0.00066,"y":1e-5},
{"p":4,"g":7,"c":"w","x":186,"y":9300},{"p":4,"g":7,"c":"w","x":165,"y":900},{"p":4,"g":7,"c":"w","x":120,"y":120},{"p":4,"g":7,"c":"w","x":1860,"y":166},
{"p":4,"g":8,"c":"w","x":7200,"y":166},{"p":4,"g":8,"c":"w","x":9300,"y":166},
{"p":4,"g":9,"c":"y","x":3200,"y":9300},{"p":4,"g":9,"c":"y","x":4300,"y":4700},{"p":4,"g":9,"c":"y","x":9300,"y":3300},
{"p":5,"g":1,"c":"w","x":1e-5,"y":300},{"p":5,"g":1,"c":"w","x":0.011,"y":300},
{"p":5,"g":2,"c":"w","x":0.044,"y":300},{"p":5,"g":2,"c":"w","x":150,"y":310},{"p":5,"g":2,"c":"w","x":360,"y":360},{"p":5,"g":2,"c":"w","x":290,"y":250},{"p":5,"g":2,"c":"w","x":290,"y":1e-5},
{"p":5,"g":3,"c":"y","x":1e-5,"y":91},{"p":5,"g":3,"c":"y","x":0.015,"y":91},
{"p":5,"g":4,"c":"y","x":0.093,"y":93},{"p":5,"g":4,"c":"y","x":50,"y":100},{"p":5,"g":4,"c":"y","x":112,"y":112},{"p":5,"g":4,"c":"y","x":91,"y":50},{"p":5,"g":4,"c":"y","x":91,"y":1e-5},
{"p":5,"g":5,"c":"b","x":1e-5,"y":30},{"p":5,"g":5,"c":"b","x":0.07,"y":30},
{"p":5,"g":6,"c":"b","x":0.26,"y":31},{"p":5,"g":6,"c":"b","x":38,"y":38},{"p":5,"g":6,"c":"b","x":32,"y":20},{"p":5,"g":6,"c":"b","x":32,"y":1e-5},
{"p":5,"g":7,"c":"a","x":1e-5,"y":9.3},{"p":5,"g":7,"c":"a","x":0.012,"y":9.3},
{"p":5,"g":8,"c":"a","x":0.08,"y":9.5},{"p":5,"g":8,"c":"a","x":3,"y":10},{"p":5,"g":8,"c":"a","x":12,"y":12},{"p":5,"g":8,"c":"a","x":9.3,"y":5},{"p":5,"g":8,"c":"a","x":9.3,"y":1e-5},
{"p":5,"g":9,"c":"w","x":4300,"y":9300},{"p":5,"g":9,"c":"w","x":5600,"y":5400},{"p":5,"g":9,"c":"w","x":9300,"y":4500},
{"p":6,"g":1,"c":"w","x":1e-5,"y":224},{"p":6,"g":1,"c":"w","x":150,"y":225},{"p":6,"g":1,"c":"w","x":280,"y":280},{"p":6,"g":1,"c":"w","x":224,"y":100},{"p":6,"g":1,"c":"w","x":224,"y":0.085},
{"p":6,"g":2,"c":"w","x":224,"y":0.0098},{"p":6,"g":2,"c":"w","x":224,"y":1e-5},
{"p":6,"g":3,"c":"y","x":1e-5,"y":69},{"p":6,"g":3,"c":"y","x":0.013,"y":69},
{"p":6,"g":4,"c":"y","x":0.1,"y":69},{"p":6,"g":4,"c":"y","x":50,"y":72},{"p":6,"g":4,"c":"y","x":81,"y":81},{"p":6,"g":4,"c":"y","x":69,"y":40},{"p":6,"g":4,"c":"y","x":69,"y":1e-5},
{"p":6,"g":5,"c":"b","x":1e-5,"y":26},{"p":6,"g":5,"c":"b","x":0.07,"y":26},
{"p":6,"g":6,"c":"b","x":0.29,"y":26},{"p":6,"g":6,"c":"b","x":20,"y":27},{"p":6,"g":6,"c":"b","x":31,"y":31},{"p":6,"g":6,"c":"b","x":27,"y":15},{"p":6,"g":6,"c":"b","x":27,"y":1e-5},
{"p":6,"g":7,"c":"a","x":1e-5,"y":6.6},{"p":6,"g":7,"c":"a","x":0.002,"y":8},{"p":6,"g":7,"c":"a","x":1,"y":9},{"p":6,"g":7,"c":"a","x":5,"y":11},{"p":6,"g":7,"c":"a","x":16,"y":16},{"p":6,"g":7,"c":"a","x":8.9,"y":1},{"p":6,"g":7,"c":"a","x":8.3,"y":0.15},
{"p":6,"g":8,"c":"a","x":8,"y":0.0125},{"p":6,"g":8,"c":"a","x":7,"y":0.00028},{"p":6,"g":8,"c":"a","x":6.8,"y":1e-5},
{"p":7,"g":1,"c":"y","x":1e-5,"y":3500},{"p":7,"g":1,"c":"y","x":0.0126,"y":3500},
{"p":7,"g":2,"c":"y","x":0.087,"y":3500},{"p":7,"g":2,"c":"y","x":720,"y":3500},{"p":7,"g":2,"c":"y","x":1400,"y":4500},{"p":7,"g":2,"c":"y","x":1180,"y":9300},
{"p":7,"g":3,"c":"y","x":9300,"y":1200},{"p":7,"g":3,"c":"y","x":4900,"y":1600},{"p":7,"g":3,"c":"y","x":3500,"y":900},{"p":7,"g":3,"c":"y","x":3400,"y":500},{"p":7,"g":3,"c":"y","x":3400,"y":0.26},
{"p":7,"g":4,"c":"y","x":3400,"y":0.038},{"p":7,"g":4,"c":"y","x":3400,"y":1e-5},
{"p":7,"g":5,"c":"w","x":1e-5,"y":1380},{"p":7,"g":5,"c":"w","x":500,"y":1400},{"p":7,"g":5,"c":"w","x":2000,"y":1950},{"p":7,"g":5,"c":"w","x":1450,"y":400},{"p":7,"g":5,"c":"w","x":1380,"y":100},{"p":7,"g":5,"c":"w","x":1380,"y":0.085},
{"p":7,"g":6,"c":"w","x":1380,"y":0.0145},{"p":7,"g":6,"c":"w","x":1380,"y":1e-5},
{"p":7,"g":7,"c":"b","x":1e-5,"y":36},{"p":7,"g":7,"c":"b","x":0.0115,"y":36},
{"p":7,"g":8,"c":"b","x":0.037,"y":36},{"p":7,"g":8,"c":"b","x":2,"y":37},{"p":7,"g":8,"c":"b","x":49,"y":49},{"p":7,"g":8,"c":"b","x":38,"y":20},{"p":7,"g":8,"c":"b","x":35,"y":1},{"p":7,"g":8,"c":"b","x":35,"y":1e-5},
{"p":7,"g":9,"c":"a","x":1e-5,"y":3.3},{"p":7,"g":9,"c":"a","x":0.013,"y":3.3},
{"p":7,"g":10,"c":"a","x":0.068,"y":3.4},{"p":7,"g":10,"c":"a","x":0.58,"y":4},{"p":7,"g":10,"c":"a","x":1.5,"y":5.4},{"p":7,"g":10,"c":"a","x":5.9,"y":5.9},{"p":7,"g":10,"c":"a","x":5.8,"y":2.3},{"p":7,"g":10,"c":"a","x":3.6,"y":0.44},{"p":7,"g":10,"c":"a","x":3.4,"y":0.1},{"p":7,"g":10,"c":"a","x":3.4,"y":1e-5},
{"p":8,"g":1,"c":"w","x":1e-5,"y":800},{"p":8,"g":1,"c":"w","x":0.011,"y":800},
{"p":8,"g":2,"c":"w","x":0.038,"y":800},{"p":8,"g":2,"c":"w","x":47,"y":830},{"p":8,"g":2,"c":"w","x":500,"y":1120},{"p":8,"g":2,"c":"w","x":1450,"y":1450},{"p":8,"g":2,"c":"w","x":800,"y":100},{"p":8,"g":2,"c":"w","x":760,"y":30},{"p":8,"g":2,"c":"w","x":760,"y":1e-5},
{"p":8,"g":3,"c":"y","x":1e-5,"y":95},{"p":8,"g":3,"c":"y","x":0.013,"y":95},
{"p":8,"g":4,"c":"y","x":0.098,"y":95},{"p":8,"g":4,"c":"y","x":2.1,"y":95},{"p":8,"g":4,"c":"y","x":29,"y":117},{"p":8,"g":4,"c":"y","x":140,"y":140},{"p":8,"g":4,"c":"y","x":100,"y":20},{"p":8,"g":4,"c":"y","x":91,"y":0.1},{"p":8,"g":4,"c":"y","x":91,"y":1e-5},
{"p":8,"g":5,"c":"b","x":1e-5,"y":14.5},{"p":8,"g":5,"c":"b","x":0.0098,"y":14.5},
{"p":8,"g":6,"c":"b","x":0.04,"y":14.5},{"p":8,"g":6,"c":"b","x":2.1,"y":15},{"p":8,"g":6,"c":"b","x":18,"y":19},{"p":8,"g":6,"c":"b","x":14,"y":5},{"p":8,"g":6,"c":"b","x":14,"y":1e-5},
{"p":8,"g":7,"c":"a","x":1e-5,"y":1.9},{"p":8,"g":7,"c":"a","x":0.01,"y":1.9},
{"p":8,"g":8,"c":"a","x":0.07,"y":1.95},{"p":8,"g":8,"c":"a","x":0.51,"y":2.6},{"p":8,"g":8,"c":"a","x":3,"y":5.4},{"p":8,"g":8,"c":"a","x":5.5,"y":5.6},{"p":8,"g":8,"c":"a","x":4.9,"y":2.6},{"p":8,"g":8,"c":"a","x":2.1,"y":0.44},{"p":8,"g":8,"c":"a","x":1.75,"y":0.05},{"p":8,"g":8,"c":"a","x":1.75,"y":1e-5},

{"p":1,"l":"10¹","c":"w","a":"v","x":4.1,"y":0.037},{"p":1,"l":"10⁰","c":"y","a":"h","x":0.02,"y":0.05},{"p":1,"l":"10⁻¹","c":"a","a":"d","x":0.0066,"y":0.0066},{"p":1,"l":"10¹","c":"w","a":"h","x":4100,"y":72},{"p":1,"l":"10⁰","c":"y","a":"h","x":3600,"y":740},
{"p":2,"l":"10¹","c":"w","a":"h","x":0.021,"y":1.3},{"p":2,"l":"10⁰","c":"y","a":"h","x":0.02,"y":0.024},{"p":2,"l":"10⁻¹","c":"a","a":"d","x":0.0047,"y":0.006},{"p":2,"l":"10¹","c":"w","a":"h","x":3500,"y":178},{"p":2,"l":"10⁰","c":"y","a":"h","x":4400,"y":1800},
{"p":3,"l":"10¹","c":"w","a":"h","x":0.83,"y":1.5},{"p":3,"l":"5,5.10⁰","c":"y","a":"h","x":0.054,"y":0.39},{"p":3,"l":"10⁰","c":"b","a":"h","x":0.0145,"y":0.02},{"p":3,"l":"10⁻¹","c":"a","a":"d","x":0.0021,"y":0.0024},{"p":3,"l":"10¹","c":"w","a":"h","x":3500,"y":56},{"p":3,"l":"5,5.10⁰","c":"y","a":"h","x":1200,"y":125},{"p":3,"l":"10⁰","c":"b","a":"h","x":3600,"y":1500},
{"p":4,"l":"10¹","c":"w","a":"h","x":0.117,"y":0.42},{"p":4,"l":"10⁰","c":"y","a":"d","x":0.008,"y":0.008},{"p":4,"l":"10⁻¹","c":"a","a":"d","x":0.0018,"y":0.0022},{"p":4,"l":"10¹","c":"w","a":"h","x":3400,"y":166},
{"p":5,"l":"10¹","c":"w","a":"h","x":0.021,"y":316},{"p":5,"l":"3.10⁰","c":"y","a":"h","x":0.038,"y":102},{"p":5,"l":"10⁰","c":"b","a":"h","x":0.135,"y":35},{"p":5,"l":"10⁻¹","c":"a","a":"h","x":0.03,"y":10.5},
{"p":6,"l":"10¹","c":"w","a":"v","x":224,"y":0.022},{"p":6,"l":"3.10⁰","c":"y","a":"h","x":0.034,"y":74},{"p":6,"l":"10⁰","c":"b","a":"h","x":0.135,"y":28},{"p":6,"l":"10⁻¹","c":"a","a":"v","x":8,"y":0.044},
{"p":7,"l":"3.10¹","c":"y","a":"h","x":0.033,"y":3900},{"p":7,"l":"3.10¹","c":"y","a":"v","x":3400,"y":0.1},{"p":7,"l":"10¹","c":"w","a":"v","x":1300,"y":0.033},{"p":7,"l":"10⁰","c":"b","a":"h","x":0.021,"y":40},{"p":7,"l":"10⁻¹","c":"a","a":"h","x":0.028,"y":3.7},
{"p":8,"l":"10¹","c":"w","a":"h","x":0.021,"y":870},{"p":8,"l":"3.10⁰","c":"y","a":"h","x":0.036,"y":110},{"p":8,"l":"10⁰","c":"b","a":"h","x":0.02,"y":16},{"p":8,"l":"10⁻¹","c":"a","a":"h","x":0.026,"y":2}
]},
"resolve":{"scale":{"fill":"shared"},"legend":{"fill":"shared"}},
"spacing":32,
"hconcat":[
{"transform":[{"filter":{"field":"p","oneOf":[1,2,5,6]}},{"calculate":"datum.p>4?1:0","as":"r"},{"calculate":"(datum.p-1)%2","as":"k"}],"facet":{"row":{"field":"r","type":"nominal","header":null},"column":{"field":"k","type":"nominal","header":null}},"spacing":{"row":7,"column":7},"bounds":"flush",
"spec":{"width":290,"height":253,"layer":[
{"transform":[{"filter":"datum.v!=null"}],"mark":{"type":"area","orient":"vertical","opacity":1},"encoding":{
"x":{"field":"x","type":"quantitative","scale":{"type":"log","domain":[1e-5,9300],"nice":false},"axis":{"title":"Aggregate size [cm]","values":[1e-4,1e-3,1e-2,1e-1,1,10,100,1000],"labelExpr":"'10'+['⁻⁴','⁻³','⁻²','⁻¹','⁰','¹','²','³'][round(log(datum.value)/LN10)+4]"}},
"y":{"field":"x","type":"quantitative","scale":{"type":"log","domain":[1e-5,9300],"nice":false},"axis":{"title":"Aggregate size [cm]","values":[1e-4,1e-3,1e-2,1e-1,1,10,100,1000],"labelExpr":"'10'+['⁻⁴','⁻³','⁻²','⁻¹','⁰','¹','²','³'][round(log(datum.value)/LN10)+4]"}},
"y2":{"field":"Y"},"detail":{"field":"v","type":"nominal"},
"fill":{"field":"v","type":"quantitative","scale":{"type":"log","domain":[0.001,0.00419,0.01755,0.0736,0.308,1.29,5.41,22.7,95],"range":["#fff5f0","#fee0d2","#fcbba1","#fc9272","#fb6a4a","#ef3b2c","#cb181d","#a50f15","#67000d"]},"legend":{"orient":"none","legendX":1281,"legendY":130,"title":"Relative velocity [m/s]","type":"gradient","direction":"vertical","gradientLength":283,"gradientThickness":9,"gradientStrokeColor":"#000","gradientStrokeWidth":1,"values":[0.001,0.01,0.1,1,10],"labelExpr":"'10'+['⁻³','⁻²','⁻¹','⁰','¹'][round(log(datum.value)/LN10)+3]","labelFontSize":14,"labelColor":"#000","titleFontSize":18,"titleFontWeight":"normal","titleColor":"#000","titleLimit":400,"titleOrient":"left","titleAnchor":"middle","labelOffset":2,"titlePadding":-69}}}},
{"transform":[{"filter":"datum.v!=null"}],"mark":{"type":"area","orient":"horizontal","opacity":1},"encoding":{
"y":{"field":"x","type":"quantitative","scale":{"type":"log","domain":[1e-5,9300],"nice":false}},
"x":{"field":"x","type":"quantitative","scale":{"type":"log","domain":[1e-5,9300],"nice":false}},
"x2":{"field":"Y"},"detail":{"field":"v","type":"nominal"},
"fill":{"field":"v","type":"quantitative","scale":{"type":"log","domain":[0.001,0.00419,0.01755,0.0736,0.308,1.29,5.41,22.7,95],"range":["#fff5f0","#fee0d2","#fcbba1","#fc9272","#fb6a4a","#ef3b2c","#cb181d","#a50f15","#67000d"]},"legend":null}}},
{"transform":[{"filter":"datum.t!=null"}],"mark":{"type":"rule","strokeDash":[3,2],"strokeWidth":0.6,"color":"#222"},"encoding":{
"x":{"datum":1e-5,"type":"quantitative","scale":{"type":"log","domain":[1e-5,9300],"nice":false}},"y":{"datum":1e-5,"type":"quantitative","scale":{"type":"log","domain":[1e-5,9300],"nice":false}},"x2":{"datum":9300},"y2":{"datum":9300}}},
{"transform":[{"filter":"datum.g!=null"}],"mark":{"type":"line","strokeWidth":1.5},"encoding":{
"x":{"field":"x","type":"quantitative","scale":{"type":"log","domain":[1e-5,9300],"nice":false}},"y":{"field":"y","type":"quantitative","scale":{"type":"log","domain":[1e-5,9300],"nice":false}},
"detail":{"field":"g","type":"nominal"},"order":{"value":null},"stroke":{"field":"c","type":"nominal","scale":{"domain":["a","b","y","w"],"range":["#3a0409","#6e0d12","#ffff33","#ffffff"]},"legend":null}}},
{"transform":[{"filter":"datum.l!=null&&(datum.c=='a'||datum.c=='b')"}],"mark":{"type":"text","fontSize":8.5,"color":"#7f1218"},"encoding":{"x":{"field":"x","type":"quantitative","scale":{"type":"log","domain":[1e-5,9300],"nice":false}},"y":{"field":"y","type":"quantitative","scale":{"type":"log","domain":[1e-5,9300],"nice":false}},"text":{"field":"l"},"angle":{"field":"a","type":"nominal","scale":{"type":"ordinal","domain":["h","v","d"],"range":[0,270,45]},"legend":null}}},
{"transform":[{"filter":"datum.l!=null&&datum.c=='y'"}],"mark":{"type":"text","fontSize":8.5,"color":"#ffff33"},"encoding":{"x":{"field":"x","type":"quantitative","scale":{"type":"log","domain":[1e-5,9300],"nice":false}},"y":{"field":"y","type":"quantitative","scale":{"type":"log","domain":[1e-5,9300],"nice":false}},"text":{"field":"l"},"angle":{"field":"a","type":"nominal","scale":{"type":"ordinal","domain":["h","v","d"],"range":[0,270,45]},"legend":null}}},
{"transform":[{"filter":"datum.l!=null&&datum.c=='w'"}],"mark":{"type":"text","fontSize":8.5,"color":"#ffffff"},"encoding":{"x":{"field":"x","type":"quantitative","scale":{"type":"log","domain":[1e-5,9300],"nice":false}},"y":{"field":"y","type":"quantitative","scale":{"type":"log","domain":[1e-5,9300],"nice":false}},"text":{"field":"l"},"angle":{"field":"a","type":"nominal","scale":{"type":"ordinal","domain":["h","v","d"],"range":[0,270,45]},"legend":null}}},
{"transform":[{"filter":"datum.t!=null"}],"mark":{"type":"text","fontSize":12.5,"font":"DejaVu Serif","color":"#ffeeee","align":"left"},"encoding":{"x":{"datum":1.2e-5,"type":"quantitative","scale":{"type":"log","domain":[1e-5,9300],"nice":false}},"y":{"datum":5200,"type":"quantitative","scale":{"type":"log","domain":[1e-5,9300],"nice":false}},"text":{"field":"t"}}}
]}},
{"transform":[{"filter":{"field":"p","oneOf":[3,4,7,8]}},{"calculate":"datum.p>4?1:0","as":"r"},{"calculate":"(datum.p-1)%2","as":"k"}],"facet":{"row":{"field":"r","type":"nominal","header":null},"column":{"field":"k","type":"nominal","header":null}},"spacing":{"row":7,"column":7},"bounds":"flush",
"spec":{"width":290,"height":253,"layer":[
{"transform":[{"filter":"datum.v!=null"}],"mark":{"type":"area","orient":"vertical","opacity":1},"encoding":{
"x":{"field":"x","type":"quantitative","scale":{"type":"log","domain":[1e-5,9300],"nice":false},"axis":{"title":"Aggregate size [cm]","values":[1e-4,1e-3,1e-2,1e-1,1,10,100,1000],"labelExpr":"'10'+['⁻⁴','⁻³','⁻²','⁻¹','⁰','¹','²','³'][round(log(datum.value)/LN10)+4]"}},
"y":{"field":"x","type":"quantitative","scale":{"type":"log","domain":[1e-5,9300],"nice":false},"axis":{"title":null,"labels":false,"values":[1e-4,1e-3,1e-2,1e-1,1,10,100,1000]}},
"y2":{"field":"Y"},"detail":{"field":"v","type":"nominal"},
"fill":{"field":"v","type":"quantitative","scale":{"type":"log","domain":[0.001,0.00419,0.01755,0.0736,0.308,1.29,5.41,22.7,95],"range":["#fff5f0","#fee0d2","#fcbba1","#fc9272","#fb6a4a","#ef3b2c","#cb181d","#a50f15","#67000d"]},"legend":null}}},
{"transform":[{"filter":"datum.v!=null"}],"mark":{"type":"area","orient":"horizontal","opacity":1},"encoding":{
"y":{"field":"x","type":"quantitative","scale":{"type":"log","domain":[1e-5,9300],"nice":false}},
"x":{"field":"x","type":"quantitative","scale":{"type":"log","domain":[1e-5,9300],"nice":false}},
"x2":{"field":"Y"},"detail":{"field":"v","type":"nominal"},
"fill":{"field":"v","type":"quantitative","scale":{"type":"log","domain":[0.001,0.00419,0.01755,0.0736,0.308,1.29,5.41,22.7,95],"range":["#fff5f0","#fee0d2","#fcbba1","#fc9272","#fb6a4a","#ef3b2c","#cb181d","#a50f15","#67000d"]},"legend":null}}},
{"transform":[{"filter":"datum.t!=null"}],"mark":{"type":"rule","strokeDash":[3,2],"strokeWidth":0.6,"color":"#222"},"encoding":{
"x":{"datum":1e-5,"type":"quantitative","scale":{"type":"log","domain":[1e-5,9300],"nice":false}},"y":{"datum":1e-5,"type":"quantitative","scale":{"type":"log","domain":[1e-5,9300],"nice":false}},"x2":{"datum":9300},"y2":{"datum":9300}}},
{"transform":[{"filter":"datum.g!=null"}],"mark":{"type":"line","strokeWidth":1.5},"encoding":{
"x":{"field":"x","type":"quantitative","scale":{"type":"log","domain":[1e-5,9300],"nice":false}},"y":{"field":"y","type":"quantitative","scale":{"type":"log","domain":[1e-5,9300],"nice":false}},
"detail":{"field":"g","type":"nominal"},"order":{"value":null},"stroke":{"field":"c","type":"nominal","scale":{"domain":["a","b","y","w"],"range":["#3a0409","#6e0d12","#ffff33","#ffffff"]},"legend":null}}},
{"transform":[{"filter":"datum.l!=null&&(datum.c=='a'||datum.c=='b')"}],"mark":{"type":"text","fontSize":8.5,"color":"#7f1218"},"encoding":{"x":{"field":"x","type":"quantitative","scale":{"type":"log","domain":[1e-5,9300],"nice":false}},"y":{"field":"y","type":"quantitative","scale":{"type":"log","domain":[1e-5,9300],"nice":false}},"text":{"field":"l"},"angle":{"field":"a","type":"nominal","scale":{"type":"ordinal","domain":["h","v","d"],"range":[0,270,45]},"legend":null}}},
{"transform":[{"filter":"datum.l!=null&&datum.c=='y'"}],"mark":{"type":"text","fontSize":8.5,"color":"#ffff33"},"encoding":{"x":{"field":"x","type":"quantitative","scale":{"type":"log","domain":[1e-5,9300],"nice":false}},"y":{"field":"y","type":"quantitative","scale":{"type":"log","domain":[1e-5,9300],"nice":false}},"text":{"field":"l"},"angle":{"field":"a","type":"nominal","scale":{"type":"ordinal","domain":["h","v","d"],"range":[0,270,45]},"legend":null}}},
{"transform":[{"filter":"datum.l!=null&&datum.c=='w'"}],"mark":{"type":"text","fontSize":8.5,"color":"#ffffff"},"encoding":{"x":{"field":"x","type":"quantitative","scale":{"type":"log","domain":[1e-5,9300],"nice":false}},"y":{"field":"y","type":"quantitative","scale":{"type":"log","domain":[1e-5,9300],"nice":false}},"text":{"field":"l"},"angle":{"field":"a","type":"nominal","scale":{"type":"ordinal","domain":["h","v","d"],"range":[0,270,45]},"legend":null}}},
{"transform":[{"filter":"datum.t!=null"}],"mark":{"type":"text","fontSize":12.5,"font":"DejaVu Serif","color":"#ffeeee","align":"left"},"encoding":{"x":{"datum":1.2e-5,"type":"quantitative","scale":{"type":"log","domain":[1e-5,9300],"nice":false}},"y":{"datum":5200,"type":"quantitative","scale":{"type":"log","domain":[1e-5,9300],"nice":false}},"text":{"field":"t"}}}
]}}
]}
